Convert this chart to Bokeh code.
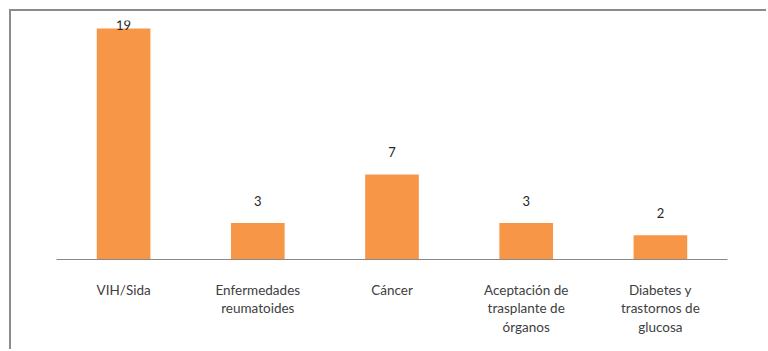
from bokeh.plotting import figure
from bokeh.models import FactorRange, Range1d, ColumnDataSource
from bokeh.core.properties import value
from bokeh.embed import file_html
from bokeh.resources import INLINE

# Data
categories = ["VIH/Sida", "Enfermedades\nreumatoides", "Cáncer",
              "Aceptación de\ntrasplante de\nórganos", "Diabetes y\ntrastornos de\nglucosa"]
counts = [19, 3, 7, 3, 2]

Y_MAX = 19.66
label_y = [min(v + 1.81, 19.33) for v in counts]

source = ColumnDataSource(dict(cat=categories, n=counts, ly=label_y,
                               txt=[str(v) for v in counts]))

p = figure(x_range=FactorRange(*categories), y_range=Range1d(0, Y_MAX),
           width=757, height=340, output_backend="svg", toolbar_location=None,
           min_border_left=45, min_border_right=41, min_border_top=9, min_border_bottom=92)
p.margin = (9, 0, 0, 9)
p.styles = {"border-left": "2px solid #8c8c8c", "border-top": "2px solid #8c8c8c"}

p.vbar(x="cat", top="n", width=0.4, source=source, fill_color="#F79646", line_color=None)
p.text(x="cat", y="ly", text="txt", source=source, text_align="center",
       text_baseline="middle", text_font=value("Lato"), text_font_size="13px",
       text_color="#262626")

p.outline_line_color = None
p.grid.visible = False
p.yaxis.visible = False
p.xaxis.axis_line_color = "#8a8a8a"
p.xaxis.major_tick_line_color = None
p.xaxis.minor_tick_line_color = None
p.xaxis.major_label_text_font = "Lato"
p.xaxis.major_label_text_font_size = "13.5px"
p.xaxis.major_label_text_color = "#404040"
p.xaxis.major_label_text_line_height = 1.18
p.xaxis.major_label_standoff = 16
p.x_range.range_padding = 0

open("out.html", "w").write(file_html(p, INLINE))
